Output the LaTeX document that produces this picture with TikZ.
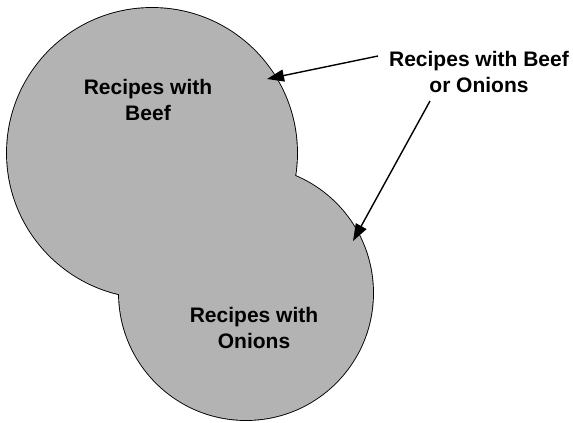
\documentclass[tikz,border=0pt]{standalone}
\usepackage{fontspec}
\setmainfont{Liberation Sans}
\usetikzlibrary{arrows.meta}
\definecolor{setgray}{HTML}{B3B3B3}
\begin{document}
\begin{tikzpicture}[x=1pt,y=-1pt,
  lbl/.style={font=\bfseries\fontsize{21}{26}\selectfont, align=center, text=black, inner sep=0pt},
  arr/.style={-{Triangle[length=17pt,width=12pt]}, line width=1.4pt},
  rim/.style={line width=1.8pt, draw=black}]
\useasboundingbox (0,0) rectangle (573,423);
% outlines first, then fill over them so only the outer rim stays visible
\draw[rim] (152,153) circle[radius=145];
\draw[rim] (246,293) circle[radius=127];
\fill[setgray] (152,153) circle[radius=145];
\fill[setgray] (246,293) circle[radius=127];
\node[lbl] (beef) at (148,100) {Recipes with\\Beef};
\node[lbl] (onion) at (254,328) {Recipes with\\Onions};
\node[lbl] (union) at (479,72) {Recipes with Beef\\or Onions};
\coordinate (s1) at (378,56);
\coordinate (t1) at (267,79);
\coordinate (s2) at (430,101);
\coordinate (t2) at (353,241);
\draw[arr] (s1) -- (t1);
\draw[arr] (s2) -- (t2);
\end{tikzpicture}
\end{document}
